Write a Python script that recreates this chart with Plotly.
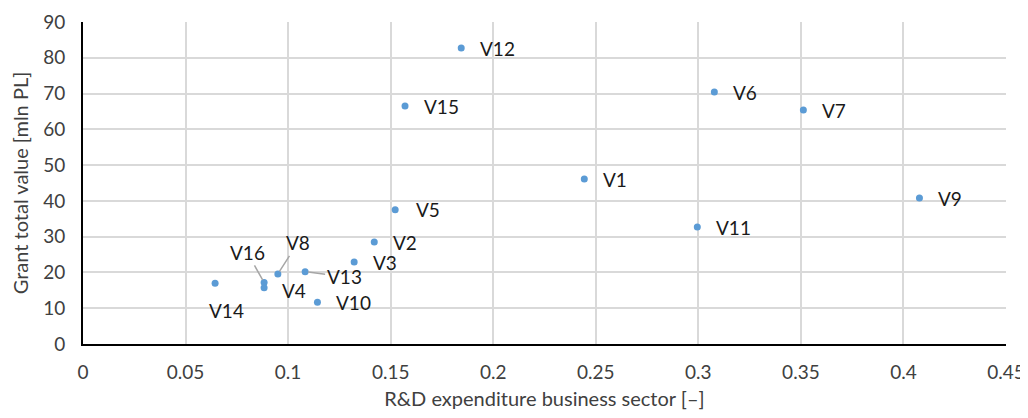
import plotly.graph_objects as go

names = ["V1", "V2", "V3", "V4", "V5", "V6", "V7", "V8", "V9", "V10",
         "V11", "V12", "V13", "V14", "V15", "V16"]
rd_exp = [0.2444, 0.142, 0.1322, 0.0883, 0.1522, 0.3078, 0.3512, 0.095, 0.4078, 0.1143,
          0.2995, 0.1844, 0.1083, 0.0644, 0.157, 0.0883]
grant = [46.1, 28.5, 22.9, 15.7, 37.5, 70.4, 65.4, 19.6, 40.8, 11.65,
         32.7, 82.7, 20.2, 17.0, 66.5, 17.2]
x_ticks = [0, 0.05, 0.1, 0.15, 0.2, 0.25, 0.3, 0.35, 0.4, 0.45]
x_tick_text = ["0", "0.05", "0.1", "0.15", "0.2", "0.25", "0.3", "0.35", "0.4", "0.45"]

# label placement: (dx, dy) screen pixel offsets (dy positive = down), leader line flag
label_style = {
    "V1": (17, 0, False), "V2": (17, 0, False), "V3": (17, 0, False),
    "V4": (16, 3, False), "V5": (19, 0, False), "V6": (17, 0, False),
    "V7": (17, 0, False), "V8": (20, -31, True), "V9": (17, 0, False),
    "V10": (17, 0, False), "V11": (17, 0, False), "V12": (17, 0, False),
    "V13": (39, 5, True), "V14": (-8, 27, False), "V15": (17, 0, False),
    "V16": (-17, -30, True),
}

FAM = "Lato, Open Sans, sans-serif"
fig = go.Figure()
fig.add_trace(go.Scatter(
    x=rd_exp, y=grant, mode="markers",
    marker=dict(color="#5b9bd5", size=7),
    hoverinfo="skip", showlegend=False,
))

font = dict(family=FAM, size=19, color="#1a1a1a")
for n, xv, yv in zip(names, rd_exp, grant):
    dx, dy, leader = label_style[n]
    if leader:
        fig.add_annotation(x=xv, y=yv, text=n, showarrow=True, arrowhead=0,
                           arrowcolor="#a6a6a6", arrowwidth=1.5, ax=dx, ay=dy,
                           standoff=3, font=font)
    else:
        fig.add_annotation(x=xv, y=yv, text=n, showarrow=False, xanchor="left",
                           xshift=dx, yshift=-dy, font=font)

# page body has an 8px margin, so the figure is sized/offset to compensate
fig.update_layout(
    width=1020, height=402,
    margin=dict(l=75, r=22, t=14, b=66, autoexpand=False),
    paper_bgcolor="white", plot_bgcolor="white",
    font=dict(family=FAM, size=19, color="#404040"),
)
fig.update_xaxes(
    range=[0, 0.45], tickvals=x_ticks, ticktext=x_tick_text,
    showgrid=True, gridcolor="#d9d9d9", gridwidth=1.5,
    showline=True, linecolor="black", linewidth=2, zeroline=False,
    ticks="", ticklabelstandoff=10, automargin=False, ticklabeloverflow="allow",
    title=dict(text="R&D expenditure business sector [–]", font=dict(size=20, color="#404040"), standoff=12),
)
fig.update_yaxes(
    range=[0, 90], dtick=10,
    showgrid=True, gridcolor="#d9d9d9", gridwidth=1.5,
    showline=True, linecolor="black", linewidth=2, zeroline=False,
    ticks="", ticklabelstandoff=12, automargin=False,
    title=dict(text="Grant total value [mln PL]", font=dict(size=20, color="#404040"), standoff=12),
)

fig.write_html("out.html")
